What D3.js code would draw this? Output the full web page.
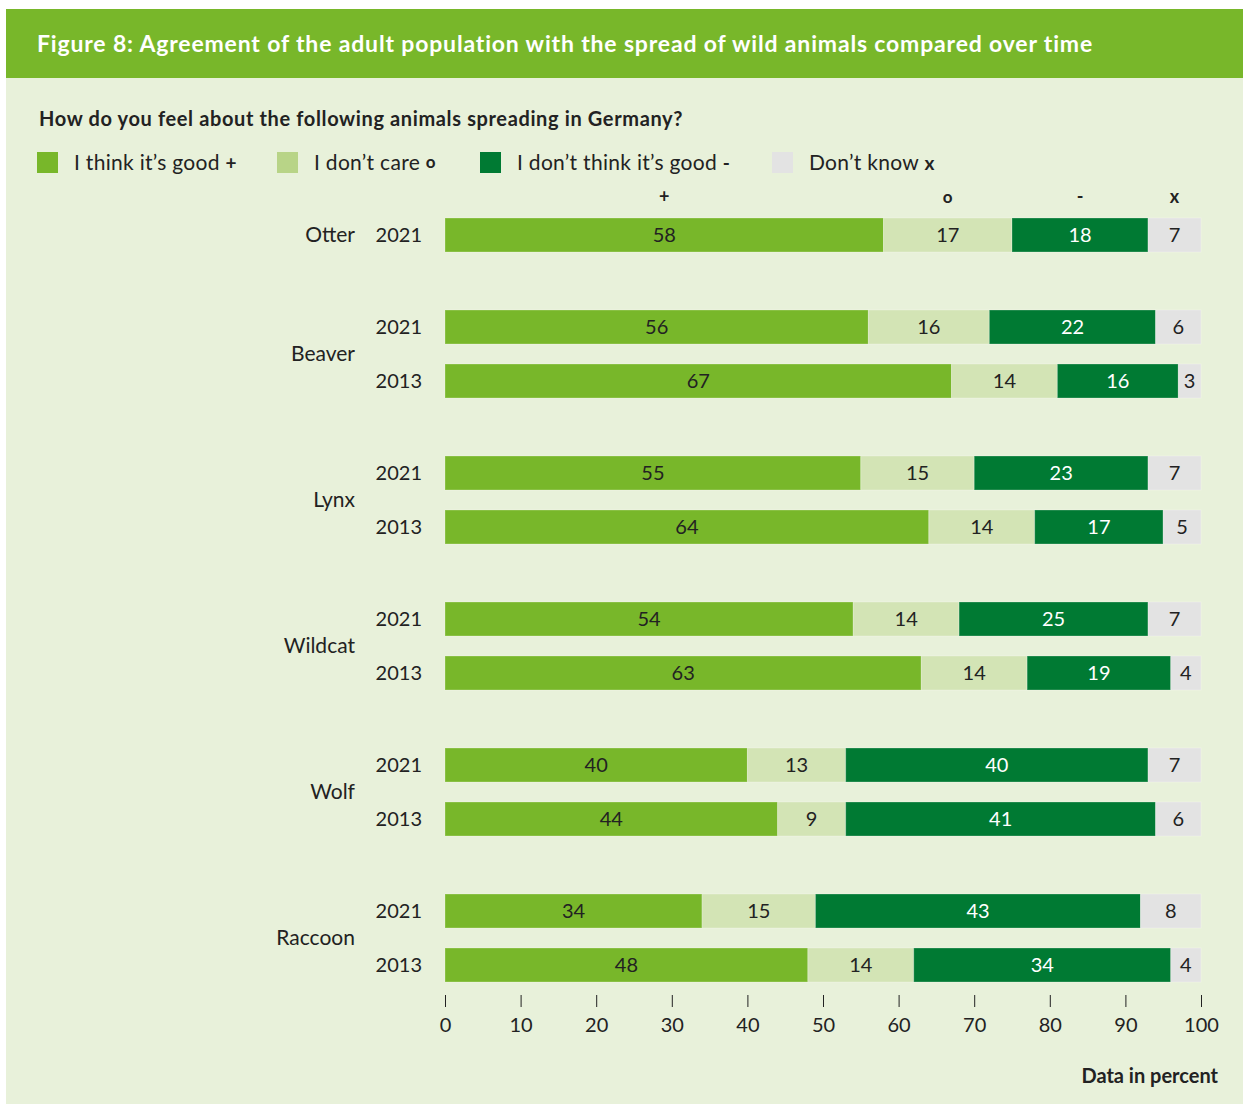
<!DOCTYPE html>
<html lang="en">
<head>
    <meta charset="UTF-8">
    <title>Figure 8: Agreement with the spread of wild animals</title>
    <script src="https://d3js.org/d3.v7.min.js"></script>
    <style>
        body {
            margin: 0;
            padding: 0;
            background-color: #fff;
            font-family: Lato, "Noto Sans", sans-serif;
        }
        svg text {
            fill: #222;
        }
    </style>
</head>
<body>
    <svg id="chart" width="1243" height="1104"></svg>

    <script>
        // Data (percent), one entry per bar
        const rowAnimals = ['Otter', 'Beaver', 'Beaver', 'Lynx', 'Lynx', 'Wildcat', 'Wildcat', 'Wolf', 'Wolf', 'Raccoon', 'Raccoon'];
        const rowYears = ['2021', '2021', '2013', '2021', '2013', '2021', '2013', '2021', '2013', '2021', '2013'];
        const good = [58, 56, 67, 55, 64, 54, 63, 40, 44, 34, 48];
        const dontCare = [17, 16, 14, 15, 14, 14, 14, 13, 9, 15, 14];
        const notGood = [18, 22, 16, 23, 17, 25, 19, 40, 41, 43, 34];
        const dontKnow = [7, 6, 3, 7, 5, 7, 4, 7, 6, 8, 4];

        const seriesNames = ['I think it\u2019s good', 'I don\u2019t care', 'I don\u2019t think it\u2019s good', 'Don\u2019t know'];
        const seriesSymbols = ['+', 'o', '-', 'x'];
        const xTicks = [0, 10, 20, 30, 40, 50, 60, 70, 80, 90, 100];

        const barColors = ['#78b72a', '#d3e4b5', '#007a33', '#e3e3e3'];
        const legendColors = ['#78b72a', '#b8d487', '#007a33', '#e3e3e3'];
        const labelColors = ['#222', '#222', '#fff', '#222'];

        const svg = d3.select('#chart');

        // Panel + header band
        svg.append('rect')
            .attr('x', 6).attr('y', 9)
            .attr('width', 1237).attr('height', 1095)
            .attr('fill', '#e8f1da');
        svg.append('rect')
            .attr('x', 6).attr('y', 9)
            .attr('width', 1237).attr('height', 69)
            .attr('fill', '#78b72a');
        svg.append('text')
            .attr('x', 37).attr('y', 52)
            .style('fill', '#fff')
            .attr('font-size', 23)
            .attr('font-weight', 'bold')
            .attr('letter-spacing', 0.83)
            .text('Figure 8: Agreement of the adult population with the spread of wild animals compared over time');

        svg.append('text')
            .attr('x', 39).attr('y', 126)
            .attr('font-size', 20)
            .attr('font-weight', 'bold')
            .attr('letter-spacing', 0.63)
            .text('How do you feel about the following animals spreading in Germany?');

        // Legend
        const legendX = [37, 277, 480, 772];
        const legend = svg.selectAll('.legend')
            .data(seriesNames)
            .enter()
            .append('g')
            .attr('class', 'legend')
            .attr('transform', (d, i) => `translate(${legendX[i]},152)`);
        legend.append('rect')
            .attr('width', 21).attr('height', 21)
            .attr('fill', (d, i) => legendColors[i]);
        const legendText = legend.append('text')
            .attr('x', 37).attr('y', 18)
            .attr('font-size', 21)
            .attr('letter-spacing', 0.3);
        legendText.append('tspan').text(d => d + ' ');
        legendText.append('tspan')
            .attr('font-weight', 'bold')
            .attr('font-size', (d, i) => i === 1 ? 17 : 19)
            .attr('dy', (d, i) => i === 1 ? -2 : 0)
            .text((d, i) => seriesSymbols[i]);

        // Scales
        const x = d3.scaleLinear().domain([0, 100]).range([445, 1201]);

        // rows within a group are 54px apart, groups get an extra 38px gap
        const animals = Array.from(new Set(rowAnimals));
        const groupOf = rowAnimals.map(a => animals.indexOf(a));
        const slot = rowAnimals.map((a, i) => i + groupOf[i] * 38 / 54);
        const y = d3.scaleLinear()
            .domain([0, slot[slot.length - 1]])
            .range([218, 948]);
        const barH = 34;

        const rows = rowAnimals.map((a, i) => {
            const vals = [good[i], dontCare[i], notGood[i], dontKnow[i]];
            let start = 0;
            return {
                animal: a,
                year: rowYears[i],
                top: y(slot[i]),
                segs: vals.map((v, k) => {
                    const s = { k: k, v: v, x0: start, x1: start + v };
                    start += v;
                    return s;
                })
            };
        });

        // Column header symbols above the first bar
        svg.selectAll('.colhead')
            .data(rows[0].segs)
            .enter()
            .append('text')
            .attr('class', 'colhead')
            .attr('x', d => x((d.x0 + d.x1) / 2))
            .attr('y', 203)
            .attr('text-anchor', 'middle')
            .attr('font-size', (d, i) => i === 1 ? 17 : 18)
            .attr('font-weight', 'bold')
            .text((d, i) => seriesSymbols[i]);

        // Bars
        const rowG = svg.selectAll('.row')
            .data(rows)
            .enter()
            .append('g')
            .attr('class', 'row')
            .attr('transform', d => `translate(0,${d.top})`);

        rowG.selectAll('rect')
            .data(d => d.segs)
            .enter()
            .append('rect')
            .attr('x', d => x(d.x0))
            .attr('width', d => x(d.x1) - x(d.x0))
            .attr('height', barH)
            .attr('fill', d => barColors[d.k])
            .attr('stroke', 'rgba(255,255,255,0.25)')
            .attr('stroke-width', 1);

        rowG.selectAll('.val')
            .data(d => d.segs)
            .enter()
            .append('text')
            .attr('class', 'val')
            .attr('x', d => x((d.x0 + d.x1) / 2))
            .attr('y', barH / 2 + 7)
            .attr('text-anchor', 'middle')
            .attr('font-size', 20)
            .style('fill', d => labelColors[d.k])
            .text(d => d.v);

        rowG.append('text')
            .attr('x', 422)
            .attr('y', barH / 2 + 7)
            .attr('text-anchor', 'end')
            .attr('font-size', 20)
            .text(d => d.year);

        // Animal labels, centred on their rows
        svg.selectAll('.animal')
            .data(animals)
            .enter()
            .append('text')
            .attr('class', 'animal')
            .attr('x', 355)
            .attr('y', a => {
                const tops = rows.filter(r => r.animal === a).map(r => r.top);
                return d3.mean(tops) + barH / 2 + 7;
            })
            .attr('text-anchor', 'end')
            .attr('font-size', 21)
            .text(a => a);

        // Axis
        const axis = svg.append('g')
            .attr('transform', 'translate(0,995)')
            .call(d3.axisBottom(x).tickValues(xTicks).tickSize(12).tickPadding(11));
        axis.select('.domain').remove();
        axis.selectAll('line').attr('stroke', '#222');
        axis.selectAll('text')
            .attr('font-size', 20)
            .attr('font-family', 'Lato, "Noto Sans", sans-serif')
            .style('fill', '#222');

        svg.append('text')
            .attr('x', 1218).attr('y', 1083)
            .attr('text-anchor', 'end')
            .attr('font-size', 20)
            .attr('font-weight', 'bold')
            .text('Data in percent');
    </script>
</body>
</html>
